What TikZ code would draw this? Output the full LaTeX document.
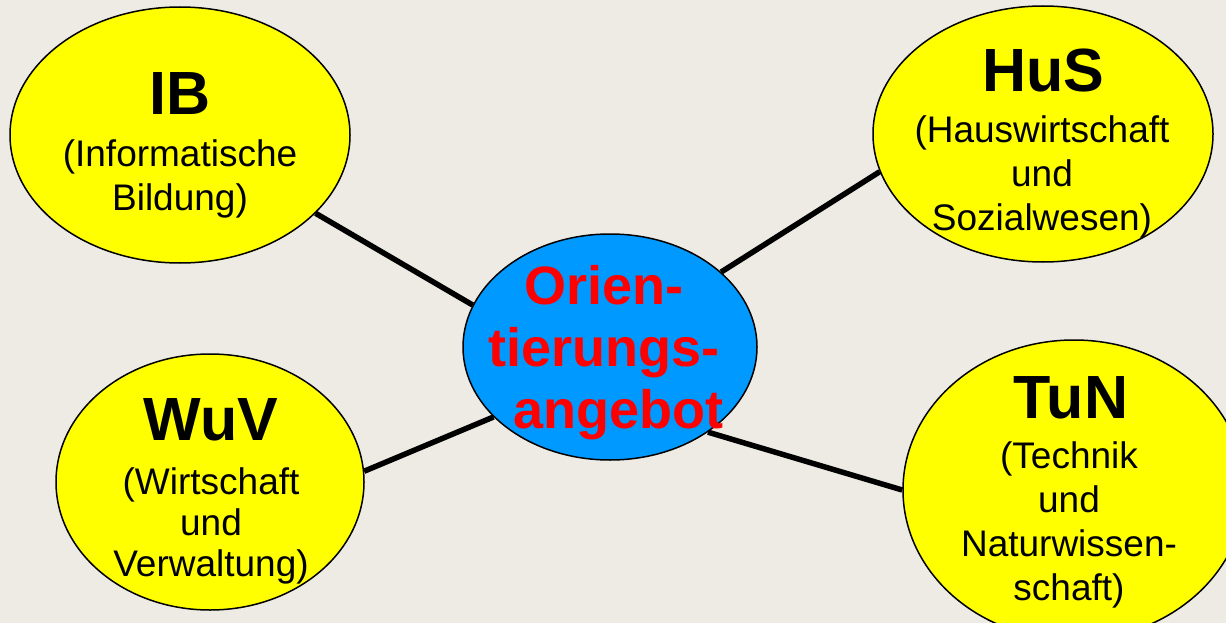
\documentclass[tikz,border=0pt]{standalone}
\usepackage{fontspec}
\setmainfont{Liberation Sans}
\usepackage{tikz}
\usetikzlibrary{shapes.geometric}
\definecolor{slidebg}{RGB}{238,235,228}
\definecolor{bubble}{RGB}{255,255,0}
\definecolor{hub}{RGB}{0,153,255}

\begin{document}
\begin{tikzpicture}[x=1pt,y=-1pt,
		blob/.style={ellipse,draw=black,line width=1.5pt,fill=bubble,inner sep=0pt},
		link/.style={line width=5.5pt},
		abbr/.style={anchor=base,font=\fontsize{61}{61}\selectfont\bfseries},
		longname/.style={anchor=north,align=center,inner sep=0pt,font=\fontsize{37}{44}\selectfont}]
				\path[use as bounding box,fill=slidebg] (0,0) rectangle (1226,623);
				\clip (0,0) rectangle (1226,623);
				% the five bubbles
				\node[blob,minimum width=340pt,minimum height=256pt] (ib) at (180,135) {};
				\node[blob,minimum width=340pt,minimum height=256pt] (hus) at (1043,134) {};
				\node[blob,minimum width=308pt,minimum height=256pt] (wuv) at (210,482) {};
				\node[blob,minimum width=342pt,minimum height=300pt] (tun) at (1074,490) {};
				\node[blob,fill=hub,minimum width=294pt,minimum height=226pt] (hubnode) at (610,347) {};
				% spokes
				\draw[link] (ib.-30) -- (hubnode.163);
				\draw[link] (hus.193) -- (hubnode.34);
				\draw[link] (wuv.4) -- (hubnode.211);
				\draw[link] (tun.180) -- (hubnode.-41);
				% texts
				\node[abbr] (ibname) at (180,115) {IB};
				\node[longname] (ibtext) at (180,139.5) {(Informatische\\Bildung)};
				\node[abbr] (husname) at (1043,92) {HuS};
				\node[longname] (hustext) at (1042,115.5) {(Hauswirtschaft\\und\\Sozialwesen)};
				\node[abbr] (wuvname) at (211,440) {WuV};
				\node[longname,font=\fontsize{37}{41}\selectfont] (wuvtext) at (211,467.5) {(Wirtschaft\\und\\Verwaltung)};
				\node[abbr] (tunname) at (1071,418) {TuN};
				\node[longname] (tuntext) at (1069,441.5) {(Technik\\und\\Naturwissen-\\schaft)};
				\node[anchor=north,align=center,inner sep=0pt,text=red,font=\fontsize{54}{62}\selectfont\bfseries] (hubtext) at (604,265.5) {Orien-\\tierungs-\\\hspace*{28pt}angebot};
			\end{tikzpicture}
\end{document}
